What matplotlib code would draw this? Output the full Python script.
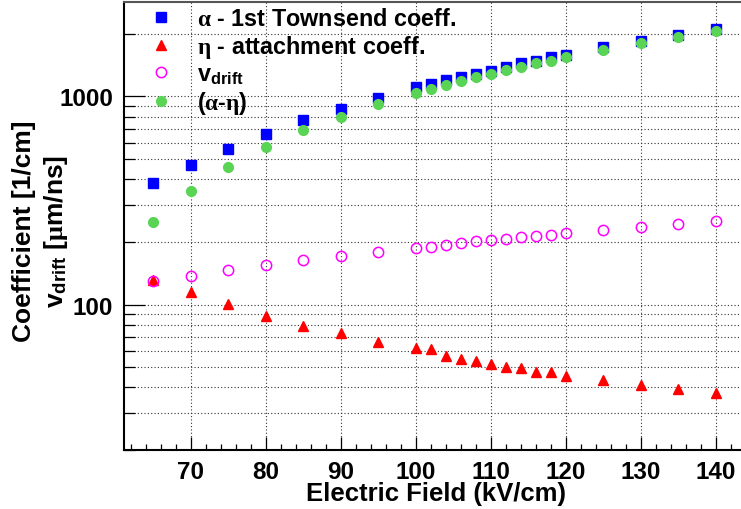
import numpy as np
import matplotlib
matplotlib.use("Agg")
from matplotlib import pyplot as plt
from matplotlib.ticker import MultipleLocator, LogLocator, NullFormatter, FuncFormatter

# values
field = [65, 70, 75, 80, 85, 90, 95, 100, 102, 104, 106, 108, 110, 112, 114, 116, 118, 120, 125, 130, 135, 140]
alpha = [382, 469, 558, 659, 769, 869, 985, 1105, 1146, 1198, 1238, 1276, 1328, 1388, 1441, 1483, 1539, 1585, 1720, 1838, 1978, 2107]
eta = [131, 115, 101, 87.6, 78.9, 73.0, 66.1, 61.7, 61.0, 56.6, 54.6, 53.6, 51.6, 50.3, 49.4, 47.6, 47.6, 45.2, 43.3, 40.9, 39.3, 37.6]
vdrift = [130, 137, 146, 154, 163, 171, 179, 187, 189, 193, 197, 201, 204, 206, 210, 213, 216, 220, 229, 236, 244, 252]
alpha_minus_eta = [249, 351, 456, 569, 689, 793, 915, 1034, 1081, 1133, 1189, 1234, 1280, 1338, 1388, 1445, 1483, 1540, 1675, 1810, 1934, 2067]

labels = [r"$\mathrm{\alpha}$ - 1st Townsend coeff.",
          r"$\mathrm{\eta}$ - attachment coeff.",
          r"$\mathbf{v}_{\mathbf{drift}}$",
          r"($\mathrm{\alpha}$-$\mathrm{\eta}$)"]

plt.rcParams["font.family"] = ["Liberation Sans", "DejaVu Sans"]
plt.rcParams["font.weight"] = "bold"
plt.rcParams["mathtext.fontset"] = "custom"
plt.rcParams["mathtext.rm"] = "Liberation Serif"
plt.rcParams["mathtext.it"] = "Liberation Serif:italic"
plt.rcParams["mathtext.bf"] = "Liberation Sans:bold"

W, H = 741, 510
fig = plt.figure(figsize=(W / 100, H / 100), dpi=100)
ax = fig.add_axes([124.3 / W, (H - 451) / H, (W - 124.3) / W, 448 / H])

ax.plot(field, alpha, ls="none", marker="s", ms=6.8, color="#0000ff", mec="#0000ff", label=labels[0])
ax.plot(field, eta, ls="none", marker="^", ms=7.2, color="#ff0000", mec="#ff0000", label=labels[1])
ax.plot(field, vdrift, ls="none", marker="o", ms=7.4, mfc="none", mec="#ff00ff", mew=1.1, label=labels[2])
ax.plot(field, alpha_minus_eta, ls="none", marker="o", ms=7.0, color="#59d454", mec="#59d454", label=labels[3])

ax.set_yscale("log")
ax.set_xlim(61.15, 143.33)
ax.set_ylim(20, 2840)

ax.xaxis.set_major_locator(MultipleLocator(10))
ax.xaxis.set_minor_locator(MultipleLocator(2))
ax.yaxis.set_major_locator(LogLocator(base=10))
ax.yaxis.set_minor_locator(LogLocator(base=10, subs=np.arange(2, 10)))
ax.yaxis.set_major_formatter(FuncFormatter(lambda v, p: "%d" % round(v)))
ax.yaxis.set_minor_formatter(NullFormatter())

ax.tick_params(axis="x", which="major", direction="in", length=9.4, width=0.9, pad=7, labelsize=17.5)
ax.tick_params(axis="x", which="minor", direction="in", length=4.3, width=0.9)
ax.tick_params(axis="y", which="major", direction="in", length=15, width=0.9, pad=8, labelsize=17.5)
ax.tick_params(axis="y", which="minor", direction="in", length=8, width=0.9)
for lab in ax.get_xticklabels() + ax.get_yticklabels():
    lab.set_fontweight("bold")

ax.grid(True, axis="x", which="major", color="#333333", lw=0.8, ls=(0, (1, 2)))
ax.grid(True, axis="y", which="both", color="#333333", lw=0.8, ls=(0, (1, 2)))
ax.set_axisbelow(True)

ax.spines["right"].set_visible(False)
ax.spines["left"].set_linewidth(1.5)
ax.spines["bottom"].set_linewidth(1.5)
ax.spines["top"].set_linewidth(1.5)
ax.spines["top"].set_color("#555555")

fs = 16.8
leg = ax.legend(loc="upper left", bbox_to_anchor=(149 / W, 1 - 8 / H), bbox_transform=fig.transFigure,
                frameon=False, fontsize=fs, handlelength=1.0, handletextpad=1.06,
                borderaxespad=0, borderpad=0, labelspacing=0.12, numpoints=1)
for t in leg.get_texts():
    t.set_fontweight("bold")

fig.text(24 / W, (H - 231) / H, "Coefficient [1/cm]", rotation=90, ha="center", va="center",
         fontsize=19, fontweight="bold")
fig.text(55.5 / W, (H - 231) / H, r"$\mathbf{v}_{\mathbf{drift}}$ [$\mathrm{\mu}$m/ns]", rotation=90,
         ha="center", va="center", fontsize=19, fontweight="bold")
fig.text(435.5 / W, (H - 494) / H, "Electric Field (kV/cm)", ha="center", va="center",
         fontsize=18.5, fontweight="bold")

fig.savefig("out.png", dpi=100)
